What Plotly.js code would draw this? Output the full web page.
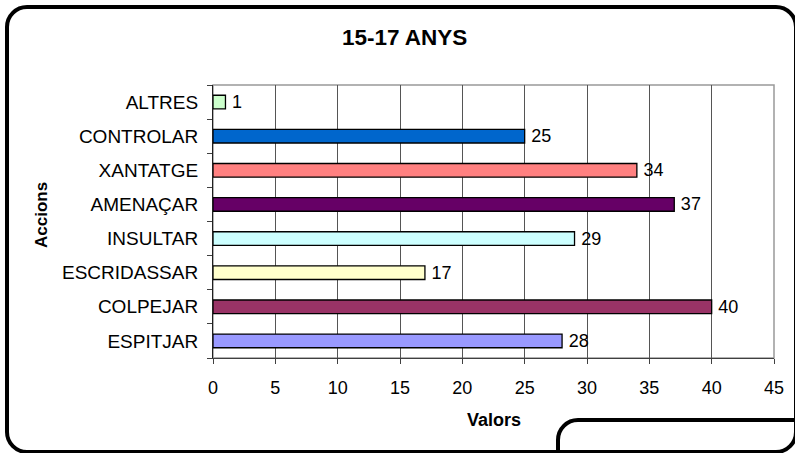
<!DOCTYPE html>
<html>
<head>
<meta charset="utf-8">
<script src="https://cdn.plot.ly/plotly-3.0.1.min.js"></script>
<style>
  html, body { margin: 0; padding: 0; background: #fff; overflow: hidden; }
  #wrap { position: relative; width: 795px; height: 453px; overflow: hidden; }
  #chart { position: absolute; left: 0; top: 0; width: 795px; height: 453px; }
  .box { position: absolute; border: 4px solid #000; border-radius: 22px; pointer-events: none; box-sizing: border-box; }
</style>
</head>
<body>
<div id="wrap">
  <div id="chart"></div>
  <div class="box" style="left:5px; top:5px; width:793px; height:449px;"></div>
  <div class="box" style="left:556px; top:418px; width:300px; height:100px;"></div>
</div>
<script>
const categories = ['ESPITJAR', 'COLPEJAR', 'ESCRIDASSAR', 'INSULTAR', 'AMENAÇAR', 'XANTATGE', 'CONTROLAR', 'ALTRES'];
const values = [28, 40, 17, 29, 37, 34, 25, 1];
const barColors = ['#9999FF', '#993366', '#FFFFCC', '#CCFFFF', '#660066', '#FF8080', '#0066CC', '#CCFFCC'];
const xTicks = [0, 5, 10, 15, 20, 25, 30, 35, 40, 45];
const titleText = '15-17 ANYS';
const xTitle = 'Valors';
const yTitle = 'Accions';

const FONT = 'Liberation Sans, Arial, sans-serif';

const trace = {
  type: 'bar',
  orientation: 'h',
  y: categories,
  x: values,
  width: 0.4,
  marker: { color: barColors, line: { color: '#000', width: 1.3 } },
  texttemplate: '\u2009%{x}',
  textposition: 'outside',
  constraintext: 'none',
  textfont: { family: FONT, size: 18, color: '#000' },
  cliponaxis: false,
  hoverinfo: 'none'
};

const layout = {
  width: 795,
  height: 453,
  margin: { l: 213, r: 21, t: 85, b: 95 },
  paper_bgcolor: '#fff',
  plot_bgcolor: '#fff',
  showlegend: false,
  font: { family: FONT, size: 18, color: '#000' },
  title: {
    text: '<b>' + titleText + '</b>',
    font: { family: FONT, size: 22.5, color: '#000' },
    xref: 'container', x: 0.509, xanchor: 'center',
    yref: 'container', y: 1 - 37 / 453, yanchor: 'middle'
  },
  xaxis: {
    range: [0, 45],
    tickvals: xTicks,
    ticktext: xTicks.map(String),
    ticks: 'outside', ticklen: 5, tickcolor: '#404040', tickwidth: 1,
    ticklabelstandoff: 8,
    showgrid: true, gridcolor: '#555', gridwidth: 1,
    zeroline: false,
    showline: true, linecolor: '#404040', linewidth: 1,
    tickfont: { family: FONT, size: 18, color: '#000' },
    fixedrange: true
  },
  yaxis: {
    type: 'category',
    categoryorder: 'array',
    categoryarray: categories,
    ticks: 'outside', ticklen: 5, tickcolor: '#404040', tickwidth: 1,
    tickson: 'boundaries',
    ticklabelstandoff: 10,
    showgrid: false,
    zeroline: false,
    showline: true, linecolor: '#202020', linewidth: 1,
    tickfont: { family: FONT, size: 19, color: '#000' },
    fixedrange: true
  },
  shapes: [
    { type: 'rect', xref: 'paper', yref: 'paper', x0: 0, x1: 1, y0: 0, y1: 1,
      line: { color: '#999', width: 1.5 }, layer: 'below' }
  ],
  annotations: [
    { text: '<b>' + yTitle + '</b>', xref: 'paper', yref: 'paper',
      x: (41 - 213) / 561, y: 1 - (215 - 85) / 273, xanchor: 'center', yanchor: 'middle',
      textangle: -90, showarrow: false, font: { family: FONT, size: 17, color: '#000' } },
    { text: '<b>' + xTitle + '</b>', xref: 'paper', yref: 'paper',
      x: (494 - 213) / 561, y: -(419.5 - 358) / 273, xanchor: 'center', yanchor: 'middle',
      showarrow: false, font: { family: FONT, size: 18, color: '#000' } }
  ]
};

Plotly.newPlot('chart', [trace], layout, { staticPlot: true, displayModeBar: false });
</script>
</body>
</html>
